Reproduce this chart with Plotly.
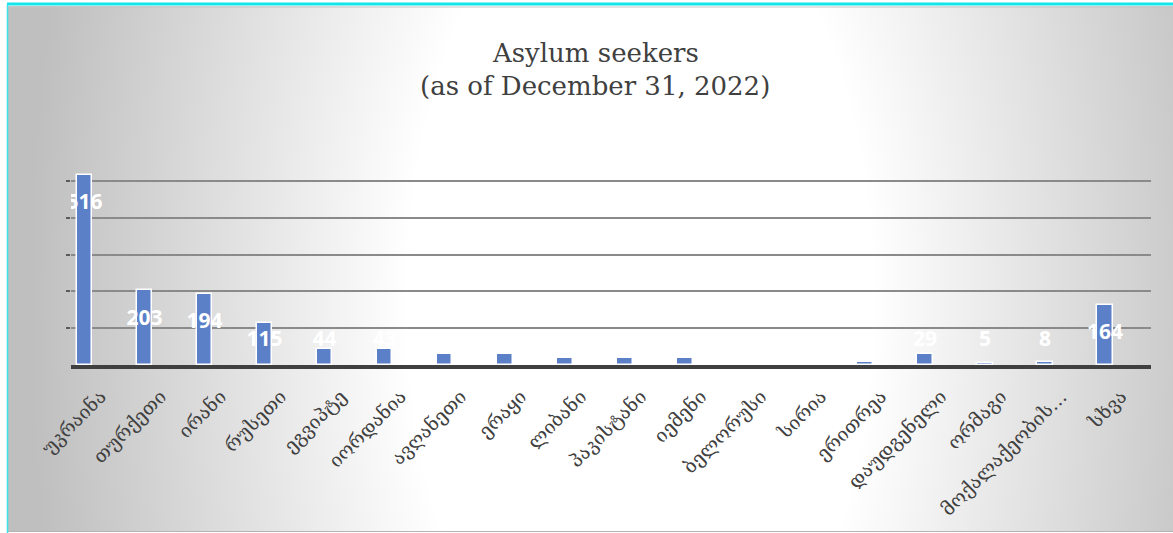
import base64
import plotly.graph_objects as go

categories = ["უკრაინა", "თურქეთი", "ირანი", "რუსეთი", "ეგვიპტე", "იორდანია",
              "ავღანეთი", "ერაყი", "ლიბანი", "პაკისტანი", "იემენი", "ბელორუსი",
              "სირია", "ერითრეა", "დაუდგენელი", "ორმაგი", "მოქალაქეობის…", "სხვა"]
values = [516, 203, 194, 115, 44, 43, 31, 29, 20, 19, 19, 3, 2, 7, 29, 5, 8, 164]
title_lines = ["Asylum seekers", "(as of December 31, 2022)"]

W, H = 1173, 533
L, R = 71, 22
T, B = 170, 168
plot_w = W - L - R
plot_h = H - T - B

svg = f'''<svg xmlns="http://www.w3.org/2000/svg" width="{W}" height="{H}" viewBox="0 0 {W} {H}">
<defs><radialGradient id="g" gradientUnits="userSpaceOnUse" cx="640" cy="300" r="610"
 gradientTransform="translate(640 300) scale(1 1.9) translate(-640 -300)">
<stop offset="0" stop-color="#ffffff"/><stop offset="0.38" stop-color="#ffffff"/>
<stop offset="1" stop-color="#bfbfbf"/></radialGradient></defs>
<rect x="0" y="0" width="{W}" height="{H}" fill="#ffffff"/>
<rect x="8" y="6" width="{W-8}" height="{H-7}" fill="url(#g)"/>
<line x1="8" y1="7" x2="{W}" y2="7" stroke="#c6c6c6" stroke-width="1"/>
<line x1="8" y1="531.5" x2="{W}" y2="531.5" stroke="#b4b4b4" stroke-width="1"/>
<line x1="7" y1="4" x2="{W}" y2="4" stroke="#12e6ec" stroke-width="3"/>
<line x1="7.5" y1="4" x2="7.5" y2="{H}" stroke="#3fe0e6" stroke-width="1.5"/>
</svg>'''
src = "data:image/svg+xml;base64," + base64.b64encode(svg.encode("utf-8")).decode("ascii")

x = list(range(len(categories)))
label_y = [max(v - 79, 65) for v in values]

fig = go.Figure()
fig.add_trace(go.Bar(
    x=x, y=values, width=0.26,
    marker=dict(color="#5b80c8", line=dict(color="#ffffff", width=1.5)),
    hoverinfo="skip", showlegend=False,
))
fig.add_trace(go.Scatter(
    x=x, y=label_y, mode="text", text=[str(v) for v in values],
    textposition="middle center",
    textfont=dict(family="Open Sans", size=21, color="#ffffff", weight="bold"),
    hoverinfo="skip", showlegend=False,
))

title_y = [53, 86]
annotations = [
    dict(text=t, xref="paper", yref="paper",
         x=(595 - L) / plot_w, y=(H - B - yy) / plot_h,
         xanchor="center", yanchor="middle", showarrow=False,
         font=dict(family="DejaVu Serif", size=26, color="#404040"))
    for t, yy in zip(title_lines, title_y)
]

fig.update_layout(
    width=W, height=H,
    margin=dict(l=L, r=R, t=T, b=B, pad=0, autoexpand=False),
    paper_bgcolor="rgba(0,0,0,0)",
    plot_bgcolor="rgba(0,0,0,0)",
    annotations=annotations,
    images=[dict(
        source=src, xref="paper", yref="paper",
        x=-L / plot_w, y=(H - B) / plot_h,
        sizex=W / plot_w, sizey=H / plot_h,
        xanchor="left", yanchor="top", sizing="stretch", layer="below",
    )],
    bargap=0,
)
fig.update_xaxes(
    automargin=False,
    range=[-0.225, -0.225 + plot_w / 60.03],
    tickmode="array", tickvals=[i + 0.27 for i in x], ticktext=categories,
    tickangle=-45, ticks="", showgrid=False, zeroline=False,
    showline=True, linecolor="#3f3f3f", linewidth=4,
    tickfont=dict(family="DejaVu Serif, DejaVu Sans", size=19, color="#404040"),
    ticklabelstandoff=9,
)
fig.update_yaxes(
    automargin=False,
    range=[0, plot_h / 0.368],
    tickmode="array", tickvals=[100, 200, 300, 400, 500],
    showticklabels=False, ticks="outside", ticklen=4, tickwidth=2, tickcolor="#5a5a5a",
    showgrid=True, gridcolor="#8a8a8a", gridwidth=2, zeroline=False, showline=False,
)

fig.write_html("out.html")
